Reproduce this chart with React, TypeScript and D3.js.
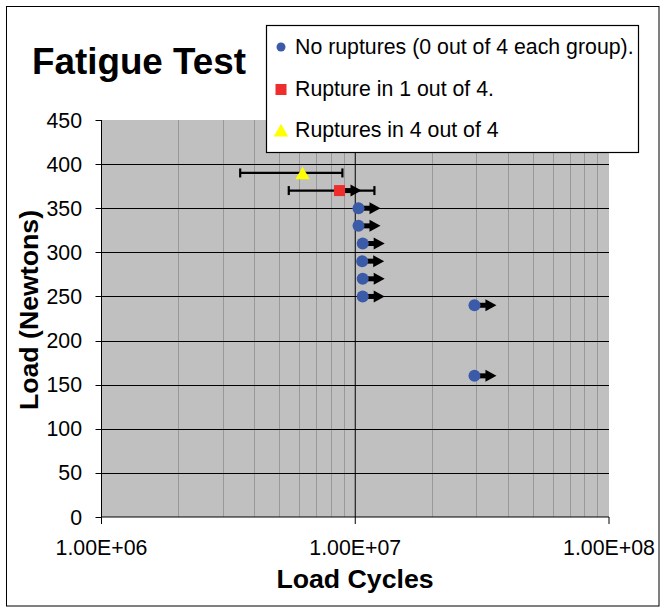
import React from "react";
import * as d3 from "d3";

// ---- data ----
const noRuptureCycles = [1.03e7, 1.03e7, 1.07e7, 1.065e7, 1.07e7, 1.07e7, 2.95e7, 2.95e7];
const noRuptureLoads = [350, 330, 310, 290, 270, 250, 240, 160];

const rupture1Cycles = [8.67e6];
const rupture1Loads = [370];
const rupture1ErrLow = [5.47e6];
const rupture1ErrHigh = [1.19e7];

const rupture4Cycles = [6.2e6];
const rupture4Loads = [390];
const rupture4ErrLow = [3.52e6];
const rupture4ErrHigh = [8.9e6];

const yTicks = [0, 50, 100, 150, 200, 250, 300, 350, 400, 450];
const xTicks = [1e6, 1e7, 1e8];
const xTickLabels = ["1.00E+06", "1.00E+07", "1.00E+08"];

const legendLabels = [
  "No ruptures (0 out of 4 each group).",
  "Rupture in 1 out of 4.",
  "Ruptures in 4 out of 4",
];

const title = "Fatigue Test";
const xTitle = "Load Cycles";
const yTitle = "Load (Newtons)";

const FONT = "'Liberation Sans', Arial, Helvetica, sans-serif";
const BLUE = "#3b5ba9";
const RED = "#ee2d2d";
const YELLOW = "#ffff00";

export default function App() {
  const W = 666;
  const H = 610;
  const plot = { left: 101.5, right: 609, top: 120, bottom: 517 };

  const x = d3.scaleLog().domain([1e6, 1e8]).range([plot.left, plot.right]);
  const y = d3.scaleLinear().domain([0, 450]).range([plot.bottom, plot.top]);

  // minor vertical gridlines 2..9 x decade
  const minorX: number[] = [];
  [1e6, 1e7].forEach((dec) => {
    for (let k = 2; k <= 9; k++) minorX.push(dec * k);
  });

  const noRupture = noRuptureCycles.map((c, i) => ({ c, l: noRuptureLoads[i] }));
  const r1 = rupture1Cycles.map((c, i) => ({
    c,
    l: rupture1Loads[i],
    lo: rupture1ErrLow[i],
    hi: rupture1ErrHigh[i],
  }));
  const r4 = rupture4Cycles.map((c, i) => ({
    c,
    l: rupture4Loads[i],
    lo: rupture4ErrLow[i],
    hi: rupture4ErrHigh[i],
  }));

  const arrow = (cx: number, cy: number, key: string) => (
    <g key={key}>
      <rect x={cx} y={cy - 2.5} width={14} height={5} fill="#000" />
      <path d={`M${cx + 11},${cy - 6} L${cx + 22},${cy} L${cx + 11},${cy + 6} Z`} fill="#000" />
    </g>
  );

  const errBar = (lo: number, hi: number, l: number, key: string) => {
    const yy = y(l);
    return (
      <g key={key} stroke="#000" strokeWidth={2.2}>
        <line x1={x(lo)} x2={x(hi)} y1={yy} y2={yy} />
        <line x1={x(lo)} x2={x(lo)} y1={yy - 4.5} y2={yy + 4.5} />
        <line x1={x(hi)} x2={x(hi)} y1={yy - 4.5} y2={yy + 4.5} />
      </g>
    );
  };

  const tri = (cx: number, cy: number, s: number) =>
    `M${cx},${cy - s * 0.6} L${cx + s * 0.6},${cy + s * 0.45} L${cx - s * 0.6},${cy + s * 0.45} Z`;

  const legendX = 281;
  const legendYs = [47, 89.5, 131];
  const legendBaselines = [54, 96, 137];

  return (
    <svg
      width={W}
      height={H}
      style={{ position: "absolute", left: 0, top: 0, background: "#fff" }}
      fontFamily={FONT}
    >
      <rect x={0} y={0} width={W} height={H} fill="#fff" />
      <rect x={6.5} y={6.5} width={652.5} height={599.5} fill="none" stroke="#000" strokeWidth={1} />

      {/* plot background */}
      <rect
        x={plot.left}
        y={plot.top}
        width={plot.right - plot.left}
        height={plot.bottom - plot.top}
        fill="#c0c0c0"
      />

      {/* minor vertical gridlines */}
      {minorX.map((v, i) => (
        <line
          key={"mx" + i}
          x1={Math.round(x(v)) + 0.5}
          x2={Math.round(x(v)) + 0.5}
          y1={plot.top}
          y2={plot.bottom}
          stroke="#999999"
          strokeWidth={1}
        />
      ))}
      {/* major vertical gridline */}
      <line x1={x(1e7)} x2={x(1e7)} y1={plot.top} y2={plot.bottom} stroke="#000" strokeWidth={1} />

      {/* horizontal gridlines */}
      {yTicks
        .filter((t) => t > 0 && t < 450)
        .map((t) => (
          <line
            key={"hy" + t}
            x1={plot.left}
            x2={plot.right}
            y1={Math.round(y(t)) + 0.5}
            y2={Math.round(y(t)) + 0.5}
            stroke="#000"
            strokeWidth={1}
          />
        ))}

      {/* axes */}
      <line x1={plot.left} x2={plot.left} y1={plot.top} y2={plot.bottom} stroke="#000" strokeWidth={1} />
      <line x1={plot.left} x2={plot.right} y1={plot.bottom} y2={plot.bottom} stroke="#000" strokeWidth={1} />

      {yTicks.map((t) => (
        <g key={"yt" + t}>
          <line
            x1={plot.left - 6}
            x2={plot.left}
            y1={Math.round(y(t)) + 0.5}
            y2={Math.round(y(t)) + 0.5}
            stroke="#000"
          />
          <text x={82} y={y(t) + 7.6} fontSize={21.3} textAnchor="end" fill="#000">
            {t}
          </text>
        </g>
      ))}

      {xTicks.map((t, i) => (
        <g key={"xt" + t}>
          <line x1={x(t)} x2={x(t)} y1={plot.bottom} y2={plot.bottom + 7} stroke="#000" />
          <text x={x(t)} y={555} fontSize={21.3} textAnchor="middle" fill="#000">
            {xTickLabels[i]}
          </text>
        </g>
      ))}

      {/* error bars */}
      {r4.map((d, i) => errBar(d.lo, d.hi, d.l, "e4" + i))}
      {r1.map((d, i) => errBar(d.lo, d.hi, d.l, "e1" + i))}

      {/* runout arrows */}
      {noRupture.map((d, i) => arrow(x(d.c), y(d.l), "a0" + i))}
      {r1.map((d, i) => arrow(x(d.c), y(d.l), "a1" + i))}

      {/* markers */}
      {noRupture.map((d, i) => (
        <circle key={"c" + i} cx={x(d.c)} cy={y(d.l)} r={6} fill={BLUE} />
      ))}
      {r1.map((d, i) => (
        <rect key={"s" + i} x={x(d.c) - 5.5} y={y(d.l) - 5.5} width={11} height={11} fill={RED} />
      ))}
      {r4.map((d, i) => (
        <path key={"t" + i} d={tri(x(d.c), y(d.l) + 1, 12)} fill={YELLOW} />
      ))}

      {/* titles */}
      <text x={32} y={74} fontSize={36.8} fontWeight="bold" fill="#000">
        {title}
      </text>
      <text x={355} y={588} fontSize={26.7} fontWeight="bold" textAnchor="middle" fill="#000">
        {xTitle}
      </text>
      <text
        transform="translate(38,310) rotate(-90)"
        fontSize={26.7}
        fontWeight="bold"
        textAnchor="middle"
        fill="#000"
      >
        {yTitle}
      </text>

      {/* legend */}
      <rect x={266.5} y={25.5} width={372} height={127} fill="#fff" stroke="#000" strokeWidth={1.2} />
      <circle cx={legendX} cy={legendYs[0]} r={4.5} fill={BLUE} />
      <rect x={legendX - 5.5} y={legendYs[1] - 5.5} width={11} height={11} fill={RED} />
      <path d={tri(legendX, legendYs[2], 12)} fill={YELLOW} />
      {legendLabels.map((s, i) => (
        <text key={"lg" + i} x={295} y={legendBaselines[i]} fontSize={21.3} fill="#000">
          {s}
        </text>
      ))}
    </svg>
  );
}
